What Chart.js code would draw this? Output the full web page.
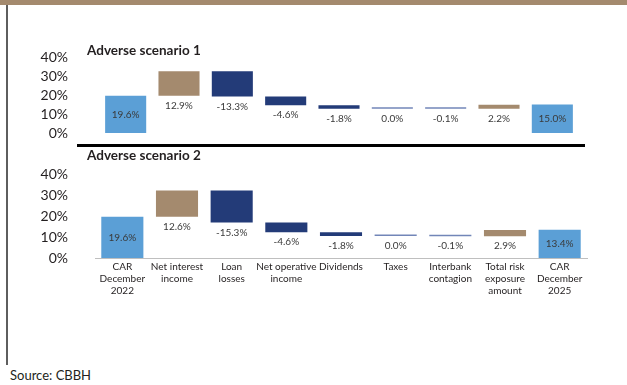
<!DOCTYPE html>
<html>
<head>
<meta charset="utf-8">
<script src="https://cdn.jsdelivr.net/npm/chart.js@4.4.1/dist/chart.umd.min.js"></script>
<style>
    html, body { margin: 0; padding: 0; background: #fff; }
    body { width: 627px; height: 385px; position: relative; overflow: hidden; font-family: Lato, "Open Sans", sans-serif; color: #231f20; }
    #topBar { position: absolute; left: 0; top: 0; width: 627px; height: 5px; background: #a48a6e; }
    #leftRule { position: absolute; left: 6px; top: 5px; width: 1.5px; height: 360px; background: #5e5e5e; }
    #sep { position: absolute; left: 77px; top: 144px; width: 508px; height: 3px; background: #000; }
    .box { position: absolute; left: 0; }
    .title { position: absolute; left: 87px; font-weight: bold; font-size: 13.5px; line-height: 16px; }
    #source { position: absolute; left: 10px; top: 367px; font-size: 13px; line-height: 16px; }
</style>
</head>
<body>

<div id="topBar"></div>
<div id="leftRule"></div>

<div class="box" style="top:0px"><canvas id="chart1" width="627" height="150"></canvas></div>
<div class="box" style="top:150px"><canvas id="chart2" width="627" height="160"></canvas></div>

<div id="sep"></div>
<div class="title" style="top:42px">Adverse scenario 1</div>
<div class="title" style="top:147px">Adverse scenario 2</div>
<div id="source">Source: CBBH</div>

<script>
// stress test: CAR walk, two adverse scenarios

const categories = [
    ['CAR', 'December', '2022'],
    ['Net interest', 'income'],
    ['Loan', 'losses'],
    ['Net operative', 'income'],
    'Dividends',
    'Taxes',
    ['Interbank', 'contagion'],
    ['Total risk', 'exposure', 'amount'],
    ['CAR', 'December', '2025']
];

// first and last bar are totals, the rest are changes
const barKinds = ['total', 'change', 'change', 'change', 'change', 'change', 'change', 'change', 'total'];

const scenario1 = [19.6, 12.9, -13.3, -4.6, -1.8, 0.0, -0.1, 2.2, 15.0];
const scenario2 = [19.6, 12.6, -15.3, -4.6, -1.8, 0.0, -0.1, 2.9, 13.4];

const yTicks = [0, 10, 20, 30, 40];


// floating bars [from, to]
function buildBars(values) {
    let level = 0;
    return values.map((v, i) => {
        if (barKinds[i] === 'total') {
            level = v;
            return [0, v];
        }
        const start = level;
        level = level + v;
        return [start, level];
    });
}

function barColours(values) {
    return values.map((v, i) => {
        if (barKinds[i] === 'total') return '#5b9fd6';
        if (Math.abs(v) < 0.5) return '#7286b8';
        return v > 0 ? '#a48a6e' : '#233b78';
    });
}

// value labels: inside the total bars, under the change bars
const barLabels = {
    id: 'barLabels',
    afterDatasetsDraw(chart, args, opts) {
        const ctx = chart.ctx;
        const meta = chart.getDatasetMeta(0);
        ctx.save();
        ctx.font = '10px Lato, "Open Sans", sans-serif';
        ctx.fillStyle = '#3a3a3a';
        ctx.textAlign = 'center';
        ctx.textBaseline = 'middle';
        meta.data.forEach((bar, i) => {
            const txt = opts.values[i].toFixed(1) + '%';
            const top = Math.min(bar.y, bar.base);
            const bottom = Math.max(bar.y, bar.base);
            if (barKinds[i] === 'total')
                ctx.fillText(txt, bar.x, (top + bottom) / 2);
            else
                ctx.fillText(txt, bar.x, bottom + 10);
        });
        ctx.restore();
    }
};

function yAxis(width, padding) {
    return {
        min: yTicks[0],
        max: yTicks[yTicks.length - 1],
        afterBuildTicks: scale => { scale.ticks = yTicks.map(v => ({ value: v })); },
        afterFit: scale => {
            scale.width = width;
            // keep the label padding from eating the plot height
            scale.paddingTop = 0;
            scale.paddingBottom = 0;
        },
        ticks: {
            autoSkip: false,
            padding: padding,
            color: '#231f20',
            font: { size: 14, family: 'Lato' },
            callback: v => v + '%'
        },
        grid: { display: false, drawTicks: false },
        border: { display: false }
    };
}

function makeChart(id, values, opts) {

    const ctx = document.getElementById(id);

    return new Chart(ctx, {

        type: 'bar',

        data: {
            labels: categories,
            datasets: [{
                data: buildBars(values),
                backgroundColor: barColours(values),
                barPercentage: 0.77,
                categoryPercentage: 1,
                minBarLength: 1.5
            }]
        },

        options: {
            responsive: false,
            animation: false,
            layout: { padding: opts.padding },
            plugins: {
                legend: { display: false },
                tooltip: { enabled: false },
                barLabels: { values: values }
            },
            scales: {
                x: opts.x,
                y: yAxis(opts.yWidth, opts.yPad)
            }
        },

        plugins: [barLabels]
    });
}

makeChart('chart1', scenario1, {
    padding: { top: 57, right: 48, bottom: 17, left: 0 },
    yWidth: 99,
    yPad: 31,
    x: { display: false }
});

makeChart('chart2', scenario2, {
    padding: { top: 24, right: 40, bottom: 0, left: 0 },
    yWidth: 95,
    yPad: 27,
    x: {
        afterFit: scale => { scale.height = 52; },
        ticks: {
            padding: 3,
            color: '#231f20',
            autoSkip: false,
            maxRotation: 0,
            font: { size: 10, family: 'Lato', lineHeight: 1.2 }
        },
        grid: { display: false, drawTicks: false },
        border: { display: true, color: '#bfbfbf', width: 1 }
    }
});

</script>
</body>
</html>
